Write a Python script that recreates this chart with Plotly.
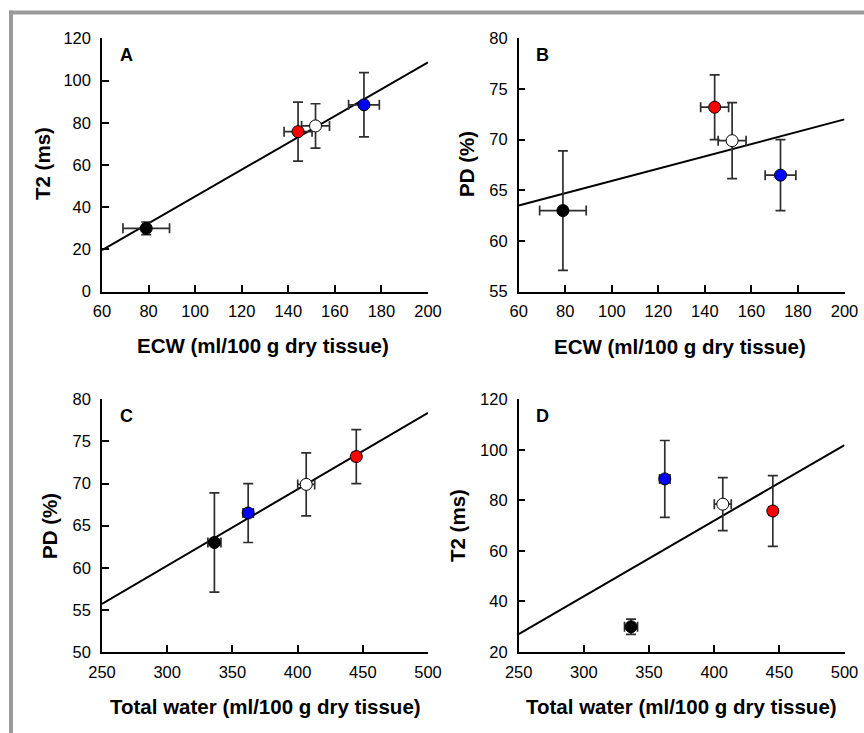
import plotly.graph_objects as go

# ---- data ----
group_colors = ["#000000", "#ff0000", "#ffffff", "#0000ff"]
ecw = [79.0, 144.2, 151.7, 172.5]
ecw_err = [10.0, 6.0, 6.0, 6.6]
total_water = [336.2, 445.0, 406.6, 362.1]
total_water_err = [5.0, 3.0, 6.5, 4.0]
t2 = [30.0, 75.8, 78.5, 88.5]
t2_err = [3.0, 14.0, 10.5, 15.2]
pd_pct = [63.0, 73.2, 69.9, 66.5]
pd_err = [5.9, 3.2, 3.75, 3.5]

fitA_x = [60, 200]; fitA_y = [19.7, 108.6]
fitB_x = [60, 200]; fitB_y = [63.5, 72.0]
fitC_x = [250, 500]; fitC_y = [55.7, 78.4]
fitD_x = [250, 500]; fitD_y = [27.1, 101.9]

W, H = 864, 733
FONT = "Arial, Liberation Sans, Helvetica, sans-serif"

def px(x):
    return x / W

def py(y):
    return 1 - y / H

fig = go.Figure()

panels = [
    ("", ecw, ecw_err, t2, t2_err, fitA_x, fitA_y, (102, 428), (38.3, 291.7), [60, 200], 20, [0, 120], 20,
     "ECW (ml/100 g dry tissue)", "T2 (ms)", "A"),
    ("2", ecw, ecw_err, pd_pct, pd_err, fitB_x, fitB_y, (518.7, 844.5), (38.3, 291.7), [60, 200], 20, [55, 80], 5,
     "ECW (ml/100 g dry tissue)", "PD (%)", "B"),
    ("3", total_water, total_water_err, pd_pct, pd_err, fitC_x, fitC_y, (102, 428), (399.3, 652), [250, 500], 50, [50, 80], 5,
     "Total water (ml/100 g dry tissue)", "PD (%)", "C"),
    ("4", total_water, total_water_err, t2, t2_err, fitD_x, fitD_y, (518.7, 844.5), (399.3, 652), [250, 500], 50, [20, 120], 20,
     "Total water (ml/100 g dry tissue)", "T2 (ms)", "D"),
]

xtitle_pos = [(263.3, 345.5), (680.3, 346.5), (265, 706), (681.2, 706.5)]
ytitle_pos = [(42, 164), (466, 164), (49, 526), (457, 526)]

annotations = []
for k, (suf, xd, xe, yd, ye, fx, fy, xdom, ydom, xr, xdt, yr, ydt, xt, yt, letter) in enumerate(panels):
    xa = "x" + suf
    ya = "y" + suf
    fig.add_trace(go.Scatter(x=fx, y=fy, mode="lines", xaxis=xa, yaxis=ya,
                             line=dict(color="#000000", width=2), showlegend=False,
                             hoverinfo="skip"))
    fig.add_trace(go.Scatter(
        x=xd, y=yd, mode="markers", xaxis=xa, yaxis=ya, showlegend=False,
        marker=dict(color=group_colors, size=12, line=dict(color="#000000", width=1)),
        error_x=dict(type="data", array=xe, visible=True, color="#2e2e2e", thickness=1.7, width=5),
        error_y=dict(type="data", array=ye, visible=True, color="#2e2e2e", thickness=1.7, width=5),
    ))
    axcommon = dict(showline=True, linecolor="#000000", linewidth=1.5, mirror=False,
                    ticks="inside", ticklen=7, tickwidth=1.5, tickcolor="#000000",
                    showgrid=False, zeroline=False, automargin=False,
                    tickfont=dict(family=FONT, size=16.5, color="#000000"))
    fig.layout["xaxis" + suf] = dict(domain=[px(xdom[0]), px(xdom[1])], range=xr, dtick=xdt,
                                     tick0=xr[0], anchor=ya, ticklabelstandoff=4, **axcommon)
    fig.layout["yaxis" + suf] = dict(domain=[py(ydom[1]), py(ydom[0])], range=yr, dtick=ydt,
                                     tick0=yr[0], anchor=xa, ticklabelstandoff=6, **axcommon)
    annotations.append(dict(text="<b>%s</b>" % xt, xref="paper", yref="paper",
                            x=px(xtitle_pos[k][0]), y=py(xtitle_pos[k][1]), xanchor="center", yanchor="middle",
                            showarrow=False, font=dict(family=FONT, size=20.5, color="#000000")))
    annotations.append(dict(text="<b>%s</b>" % yt, xref="paper", yref="paper",
                            x=px(ytitle_pos[k][0]), y=py(ytitle_pos[k][1]), xanchor="center",
                            yanchor="middle", textangle=-90, showarrow=False,
                            font=dict(family=FONT, size=20.5, color="#000000")))
    annotations.append(dict(text="<b>%s</b>" % letter, xref="paper", yref="paper",
                            x=px(xdom[0] + 24), y=py(ydom[0] + 16.5), xanchor="center",
                            yanchor="middle", showarrow=False,
                            font=dict(family=FONT, size=18, color="#000000")))

shapes = [
    dict(type="line", xref="paper", yref="paper", x0=px(9), x1=1.01, y0=py(12.5), y1=py(12.5),
         line=dict(color="#9a9a9a", width=4)),
    dict(type="line", xref="paper", yref="paper", x0=px(11), x1=px(11), y0=py(10.5), y1=-0.01,
         line=dict(color="#9a9a9a", width=4)),
]

fig.update_layout(template="none", width=W, height=H, margin=dict(l=0, r=0, t=0, b=0, pad=0),
                  autosize=False,
                  paper_bgcolor="#ffffff", plot_bgcolor="#ffffff",
                  annotations=annotations, shapes=shapes, showlegend=False,
                  font=dict(family=FONT, color="#000000"))

fig.write_html("out.html", config={"displayModeBar": False},
               post_script="document.body.style.margin='0px';document.body.style.overflow='hidden';")
